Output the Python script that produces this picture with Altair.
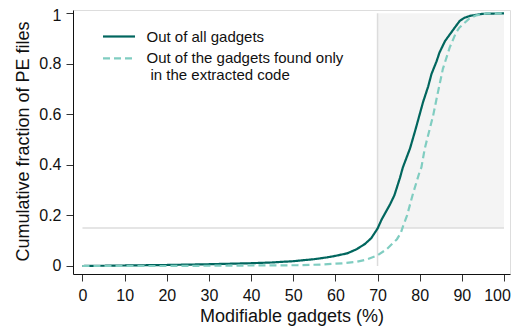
import altair as alt
import pandas as pd

# ---- data ----
all_x = [0, 10, 20, 30, 40, 45, 50, 55, 58, 60, 62.8, 65, 67, 68.5, 70, 71, 72, 73, 74,
         75.3, 76, 77.7, 79, 80.8, 82, 82.8, 84, 84.7, 86, 88.3, 89.5, 90.6, 92, 95, 100]
all_y = [0.0, 0.002, 0.004, 0.007, 0.011, 0.014, 0.019, 0.027, 0.034, 0.040, 0.050, 0.066,
         0.087, 0.11, 0.148, 0.185, 0.215, 0.245, 0.28, 0.348, 0.39, 0.465, 0.54, 0.649,
         0.71, 0.76, 0.81, 0.845, 0.89, 0.943, 0.97, 0.982, 0.99, 0.998, 1.0]

ext_x = [0, 20, 40, 51, 57, 62, 65.2, 67.5, 69.9, 72.2, 74.6, 75.5, 76.1, 77, 78.3, 80,
         80.4, 81.2, 83.2, 84, 85.5, 87.1, 88.6, 89.4, 91.8, 93.4, 96, 100]
ext_y = [0.0, 0.0, 0.002, 0.003, 0.006, 0.011, 0.017, 0.026, 0.041, 0.067, 0.106, 0.13,
         0.16, 0.2, 0.28, 0.374, 0.39, 0.465, 0.596, 0.662, 0.78, 0.864, 0.923, 0.943,
         0.98, 0.992, 1.0, 1.0]

series_names = ["Out of all gadgets", "Out of the gadgets found only in the extracted code"]
series_colors = ["#01665e", "#80cdc1"]

region_x = [70, 100]
region_y = [0.15, 1.0]
hline_y = 0.15
hline_x = [0, 100]
vline_x = 70
vline_y = [0, 1]

x_ticks = [0, 10, 20, 30, 40, 50, 60, 70, 80, 90, 100]
y_ticks = [0, 0.1, 0.2, 0.3, 0.4, 0.5, 0.6, 0.7, 0.8, 0.9, 1.0]

FONT = "Liberation Sans"

df = pd.concat([
    pd.DataFrame({"x": all_x, "y": all_y, "series": series_names[0], "o": range(len(all_x))}),
    pd.DataFrame({"x": ext_x, "y": ext_y, "series": series_names[1], "o": range(len(ext_x))}),
])

xscale = alt.Scale(domain=[-2.25, 101.42], nice=False, zero=False)
yscale = alt.Scale(domain=[-0.0317, 1.013], nice=False, zero=False)

xaxis = alt.Axis(values=x_ticks, title="Modifiable gadgets (%)", grid=False,
                 labelFontSize=16, titleFontSize=18, labelFont=FONT, titleFont=FONT,
                 labelColor="#111", titleColor="#111", domainColor="#111",
                 tickColor="#333", tickSize=7, labelPadding=6, labelOverlap=False,
                 labelFlush=False, titleY=47, titleBaseline="alphabetic",
                 labelOffset={"condition": {"test": "datum.value === 100", "value": -7}, "value": 0},
                 titleFontWeight="normal")
yaxis = alt.Axis(values=y_ticks, title="Cumulative fraction of PE files", grid=False,
                 format="~g",
                 labelExpr="round(datum.value*10)%2===0 ? datum.label : ''",
                 labelFontSize=16, titleFontSize=18, labelFont=FONT, titleFont=FONT,
                 labelColor="#111", titleColor="#111", domainColor="#111",
                 tickColor="#333", tickSize=7, labelPadding=5, labelOverlap=False,
                 labelFlush=False, titleX=-45, titleY=131, titleBaseline="alphabetic",
                 labelOffset={"condition": {"test": "datum.value === 1", "value": 2.5}, "value": 0},
                 titleAngle=270, titleFontWeight="normal")

rect_df = pd.DataFrame({"x": [region_x[0]], "x2": [region_x[1]],
                        "y": [region_y[0]], "y2": [region_y[1]]})
rect = alt.Chart(rect_df).mark_rect(fill="#f4f4f4").encode(
    x=alt.X("x:Q", scale=xscale, axis=xaxis), x2="x2", y=alt.Y("y:Q", scale=yscale, axis=yaxis), y2="y2")

hrule = alt.Chart(pd.DataFrame({"x": [hline_x[0]], "x2": [hline_x[1]], "y": [hline_y]})).mark_rule(
    color="#dcdcdc", strokeWidth=1.5).encode(x=alt.X("x:Q", scale=xscale), x2="x2", y=alt.Y("y:Q", scale=yscale))
vrule = alt.Chart(pd.DataFrame({"x": [vline_x], "y": [vline_y[0]], "y2": [vline_y[1]]})).mark_rule(
    color="#dcdcdc", strokeWidth=1.5).encode(x=alt.X("x:Q", scale=xscale), y=alt.Y("y:Q", scale=yscale), y2="y2")

lines = alt.Chart(df).mark_line(strokeWidth=2.2).encode(
    x=alt.X("x:Q", scale=xscale),
    y=alt.Y("y:Q", scale=yscale),
    order="o:Q",
    color=alt.Color("series:N", scale=alt.Scale(domain=series_names, range=series_colors), legend=None),
    strokeDash=alt.StrokeDash("series:N", scale=alt.Scale(domain=series_names, range=[[1, 0], [7, 4]]), legend=None),
)

# manual legend (pixel-placed decoration)
leg_solid = alt.Chart(pd.DataFrame({"a": [0]})).mark_rule(color=series_colors[0], strokeWidth=2.2).encode(
    x=alt.value(30), x2=alt.value(62), y=alt.value(26.5))
leg_dash = alt.Chart(pd.DataFrame({"a": [0]})).mark_rule(color=series_colors[1], strokeWidth=2.2,
                                                       strokeDash=[7, 4]).encode(
    x=alt.value(30), x2=alt.value(62), y=alt.value(48.3))
txt_kw = dict(font=FONT, fontSize=15, color="#111", align="left", baseline="middle")
leg_t1 = alt.Chart(pd.DataFrame({"t": ["Out of all gadgets"]})).mark_text(**txt_kw).encode(
    text="t:N", x=alt.value(73.5), y=alt.value(26.5))
leg_t2 = alt.Chart(pd.DataFrame({"t": ["Out of the gadgets found only"]})).mark_text(**txt_kw).encode(
    text="t:N", x=alt.value(73.5), y=alt.value(47.5))
leg_t3 = alt.Chart(pd.DataFrame({"t": ["in the extracted code"]})).mark_text(**txt_kw).encode(
    text="t:N", x=alt.value(77.5), y=alt.value(65))

chart = alt.layer(rect, hrule, vrule, lines, leg_solid, leg_dash, leg_t1, leg_t2, leg_t3).properties(
    width=437, height=264,
    autosize=alt.AutoSizeParams(type="none"),
    padding={"left": 65, "top": 2, "right": 1, "bottom": 53},
).configure_view(stroke="#222", strokeWidth=1).configure(background="white")

chart.save("out.html", embed_options={"renderer": "svg", "actions": False})
